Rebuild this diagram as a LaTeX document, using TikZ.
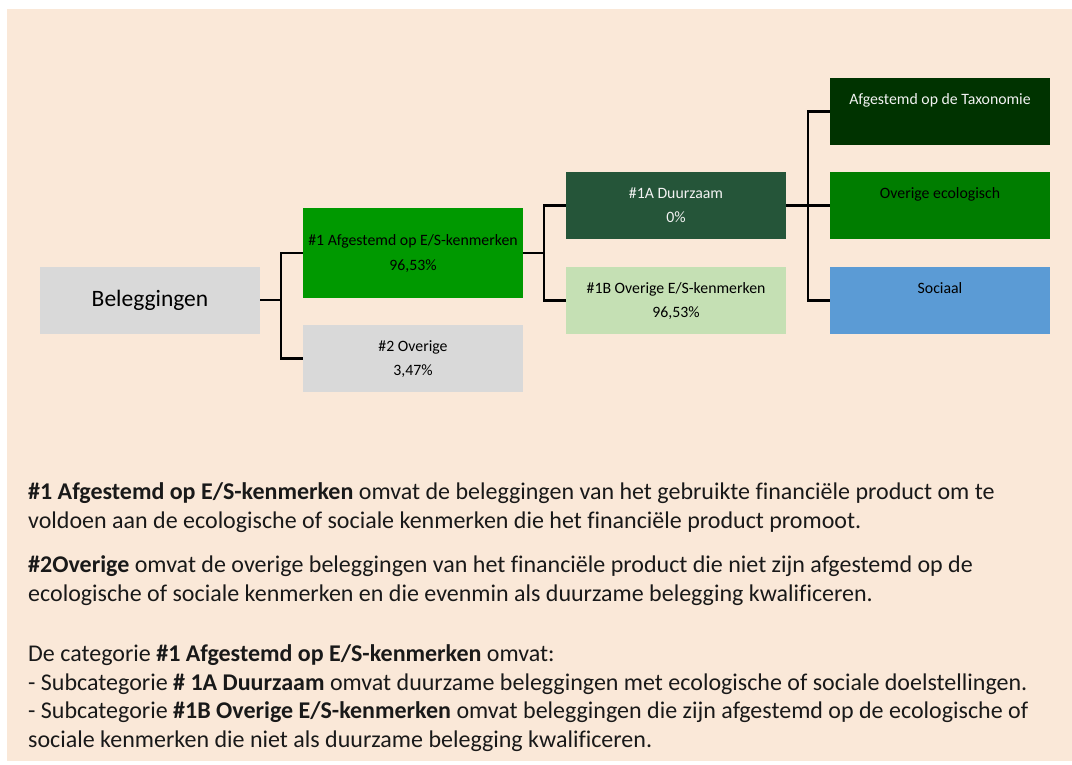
\documentclass[tikz,border=0pt]{standalone}
\usepackage{fontspec}
\setmainfont{Carlito}[Ligatures=NoCommon]
\definecolor{bg}{HTML}{FAE8D8}
\definecolor{greyb}{HTML}{D9D9D9}
\definecolor{green1}{HTML}{009900}
\definecolor{green1a}{HTML}{255539}
\definecolor{green1b}{HTML}{C5E0B4}
\definecolor{taxgreen}{HTML}{003300}
\definecolor{ecogreen}{HTML}{007D00}
\definecolor{socblue}{HTML}{5B9BD5}
\definecolor{lighttext}{HTML}{F2F2F2}
\begin{document}
\begin{tikzpicture}[x=1pt,y=-1pt,
  box/.style={rectangle, inner sep=0pt, minimum width=220pt, minimum height=67pt, align=center,
    font=\fontsize{15.8}{24.7}\selectfont},
  bigbox/.style={box, minimum height=90pt},
  conn/.style={draw=black, line width=2.2pt, line join=miter},
  para/.style={anchor=base west, inner sep=0pt, font=\fontsize{24}{29}\selectfont, text=black!90}]
\useasboundingbox (0,0) rectangle (1072,764);
\fill[white] (0,0) rectangle (1072,764);
\fill[bg] (7,9) rectangle (1072,761);

% boxes
\node[box, fill=greyb, font=\fontsize{23.5}{28}\selectfont] (bel) at (150,300) {Beleggingen};
\node[bigbox, fill=green1] (b1) at (413,253) {\strut\#1 Afgestemd op E/S-kenmerken\\\strut 96,53\%};
\node[box, fill=greyb] (b2) at (413,358.5) {\strut\#2 Overige\\\strut 3,47\%};
\node[box, fill=green1a, text=lighttext] (b1a) at (676,205.5) {\strut\#1A Duurzaam\\\strut 0\%};
\node[box, fill=green1b] (b1b) at (676,300.5) {\strut\#1B Overige E/S-kenmerken\\\strut 96,53\%};
\node[box, fill=taxgreen, text=lighttext] (tax) at (940,111.5) {\strut Afgestemd op de Taxonomie\\\strut};
\node[box, fill=ecogreen] (eco) at (940,205.5) {\strut Overige ecologisch\\\strut};
\node[box, fill=socblue] (soc) at (940,300.5) {\strut Sociaal\\\strut};

% connectors
\draw[conn] (bel.east) -- ++(21,0) |- (b1.west);
\draw[conn] (bel.east) -- ++(21,0) |- (b2.west);
\draw[conn] (b1.east) -- ++(21,0) |- (b1a.west);
\draw[conn] (b1.east) -- ++(21,0) |- (b1b.west);
\draw[conn] (b1a.east) -- ++(22,0) |- (tax.west);
\draw[conn] (b1a.east) -- ++(22,0) |- (eco.west);
\draw[conn] (b1a.east) -- ++(22,0) |- (soc.west);

% text
\node[para] (p1) at (28,499) {\textbf{\#1 Afgestemd op E/S-kenmerken} omvat de beleggingen van het gebruikte financiële product om te};
\node[para] (p2) at (28,528) {voldoen aan de ecologische of sociale kenmerken die het financiële product promoot.};
\node[para] (p3) at (28,572) {\textbf{\#2Overige} omvat de overige beleggingen van het financiële product die niet zijn afgestemd op de};
\node[para] (p4) at (28,601) {ecologische of sociale kenmerken en die evenmin als duurzame belegging kwalificeren.};
\node[para] (p5) at (28,661) {De categorie \textbf{\#1 Afgestemd op E/S-kenmerken} omvat:};
\node[para] (p6) at (28,690) {- Subcategorie \textbf{\# 1A Duurzaam} omvat duurzame beleggingen met ecologische of sociale doelstellingen.};
\node[para] (p7) at (28,718.5) {- Subcategorie \textbf{\#1B Overige E/S-kenmerken} omvat beleggingen die zijn afgestemd op de ecologische of};
\node[para] (p8) at (28,747) {sociale kenmerken die niet als duurzame belegging kwalificeren.};
\end{tikzpicture}
\end{document}
